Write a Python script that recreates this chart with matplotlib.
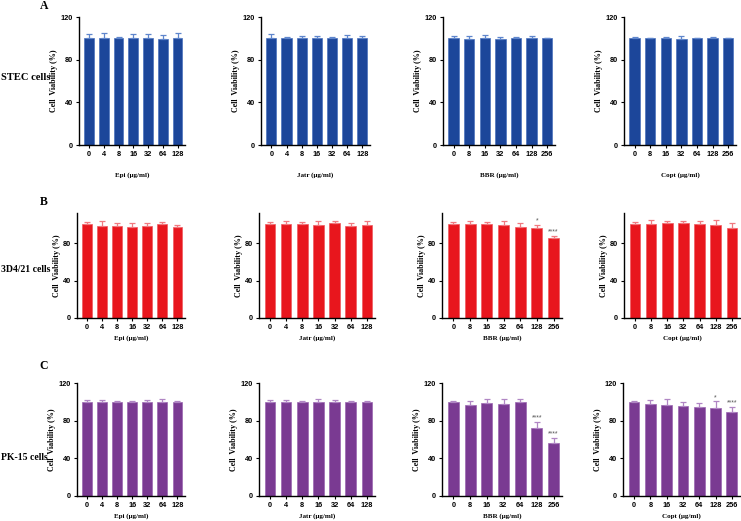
import matplotlib
matplotlib.use("Agg")
import matplotlib.pyplot as plt
import numpy as np

W, H = 741, 521

conc_a = ["0", "4", "8", "16", "32", "64", "128"]
conc_b = ["0", "8", "16", "32", "64", "128", "256"]

drug_names = ["Epi", "Jatr", "BBR", "Copt"]
row_labels = ["STEC cells", "3D4/21 cells", "PK-15 cells"]
row_letters = ["A", "B", "C"]

# Row A: STEC cells
stec_epi = [100, 100.5, 100, 100, 100, 99.5, 100]
stec_epi_err = [4, 4.5, 1.5, 4, 4, 3.5, 5]
stec_jatr = [100, 100, 100, 100.5, 100, 100, 100]
stec_jatr_err = [4, 1, 2, 1.5, 1, 3, 2.5]
stec_bbr = [100, 99.5, 100, 99.5, 100, 100, 100]
stec_bbr_err = [2, 3, 3, 1.5, 1, 2, 0.5]
stec_copt = [100, 100, 100, 99.5, 100, 100, 100]
stec_copt_err = [1.5, 0.5, 1.5, 3, 0.5, 1.5, 0.5]

# Row B: 3D4/21 cells
p3d_epi = [100, 98.5, 98.5, 97, 98, 100, 97]
p3d_epi_err = [2, 4.5, 2.5, 4, 3, 2, 2]
p3d_jatr = [100, 100, 100, 99, 101, 98, 99]
p3d_jatr_err = [2, 4, 2, 4, 3, 3, 4]
p3d_bbr = [100, 100, 100, 99, 97, 96, 85]
p3d_bbr_err = [2, 4, 2, 4, 4, 3, 3]
p3d_copt = [100, 100, 101, 101, 100, 99, 96]
p3d_copt_err = [2, 5, 3, 3, 3, 6, 5]
p3d_bbr_sig = ["", "", "", "", "", "*", "****"]

# Row C: PK-15 cells
pk_epi = [100, 100, 100, 100, 100, 100, 100]
pk_epi_err = [2, 2, 1, 1, 2, 3.5, 1]
pk_jatr = [100, 100, 100, 100, 100, 100, 100]
pk_jatr_err = [2, 2, 1, 3, 2, 1, 1]
pk_bbr = [100, 97, 98.5, 97.5, 100, 72, 56]
pk_bbr_err = [1, 4, 5, 6, 3, 6.5, 6]
pk_copt = [100, 98, 97, 96, 95, 93, 89]
pk_copt_err = [1, 4, 6, 4, 4, 7.5, 6]
pk_bbr_sig = ["", "", "", "", "", "****", "****"]
pk_copt_sig = ["", "", "", "", "", "*", "****"]

rows = [
    [(stec_epi, stec_epi_err, conc_a, None), (stec_jatr, stec_jatr_err, conc_a, None),
     (stec_bbr, stec_bbr_err, conc_b, None), (stec_copt, stec_copt_err, conc_b, None)],
    [(p3d_epi, p3d_epi_err, conc_a, None), (p3d_jatr, p3d_jatr_err, conc_a, None),
     (p3d_bbr, p3d_bbr_err, conc_b, p3d_bbr_sig), (p3d_copt, p3d_copt_err, conc_b, None)],
    [(pk_epi, pk_epi_err, conc_a, None), (pk_jatr, pk_jatr_err, conc_a, None),
     (pk_bbr, pk_bbr_err, conc_b, pk_bbr_sig), (pk_copt, pk_copt_err, conc_b, pk_copt_sig)],
]

bar_colors = ["#1c469a", "#e8161d", "#7a3a92"]
err_colors = ["#5f86cc", "#f07a80", "#b086c4"]
edge_colors = ["#4a72bd", "#f05a60", "#9a66b0"]

# axes boxes in pixels: (left, top, right, bottom)
row_tb = [(17, 145), (213, 318), (383, 496)]
col_lr = [
    [(79, 185), (261, 370), (443, 555), (624, 736)],
    [(77, 185), (259, 375), (442, 562), (624, 740)],
    [(77, 185), (259, 375), (442, 562), (623, 740)],
]
row_ylim = [(0, 120), (0, 112), (0, 120)]
row_yticks = [[0, 40, 80, 120], [0, 40, 80], [0, 40, 80, 120]]
row_xlabelpad = [10, 3, 2.5]
row_label_size = [7.6, 7, 7]

fig = plt.figure(figsize=(W / 100, H / 100), dpi=100)
fig.patch.set_facecolor("white")

serif = ["Liberation Serif", "DejaVu Serif"]
sans = ["Liberation Sans", "DejaVu Sans"]

for r in range(3):
    top, bot = row_tb[r]
    for c in range(4):
        left, right = col_lr[r][c]
        ax = fig.add_axes([left / W, 1 - bot / H, (right - left) / W, (bot - top) / H])
        vals, errs, labels, sig = rows[r][c]
        x = np.arange(len(vals))
        ax.bar(x, vals, width=0.66, color=bar_colors[r], edgecolor=edge_colors[r],
               linewidth=0.5, zorder=2)
        ax.errorbar(x, vals, yerr=[np.zeros(len(errs)), errs], fmt="none",
                    ecolor=err_colors[r], elinewidth=0.9, capsize=2.2, capthick=0.9, zorder=3)
        if sig is not None:
            for xi, v, e, s in zip(x, vals, errs, sig):
                if s:
                    ax.text(xi, v + e + 0.5, s, ha="center", va="bottom", fontsize=5,
                            color="#555555", family=sans)
        ax.set_xlim(-0.68, 6.5)
        ax.set_ylim(*row_ylim[r])
        ax.set_yticks(row_yticks[r])
        ax.set_xticks(x)
        ax.set_xticklabels(labels)
        for s in ["top", "right"]:
            ax.spines[s].set_visible(False)
        for s in ["left", "bottom"]:
            ax.spines[s].set_linewidth(1.0)
        ax.tick_params(axis="both", length=2.5, width=0.8, labelsize=5.3, pad=2)
        for lab in ax.get_xticklabels() + ax.get_yticklabels():
            lab.set_fontweight("bold")
            lab.set_family(sans)
        ax.set_ylabel("Cell  Viability (%)", fontsize=5.8, fontweight="bold", family=serif,
                      labelpad=1.5)
        ax.set_xlabel(f"{drug_names[c]} (μg/ml)", fontsize=5, fontweight="bold", family=serif,
                      labelpad=row_xlabelpad[r])

    fig.text(44 / W, 1 - [6, 202, 366][r] / H, row_letters[r], fontsize=8.5, fontweight="bold",
             family=serif, ha="center", va="center")
    fig.text(1 / W, 1 - [77, 269, 458][r] / H, row_labels[r], fontsize=row_label_size[r],
             fontweight="bold", family=serif, ha="left", va="center")

fig.savefig("out.png", dpi=100, facecolor="white")
